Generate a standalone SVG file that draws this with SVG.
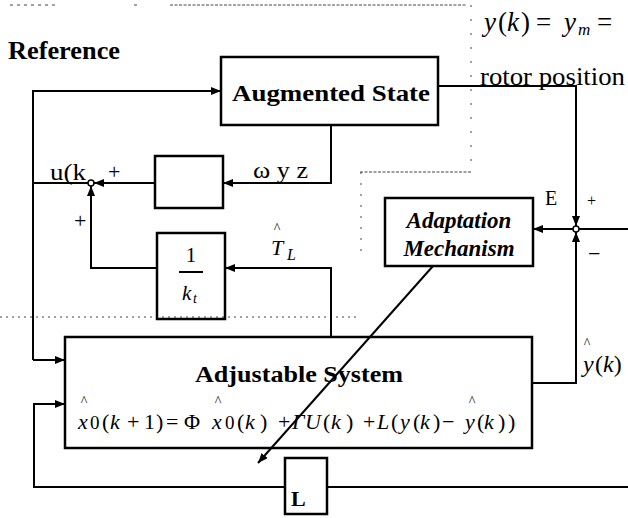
<svg xmlns="http://www.w3.org/2000/svg" width="628" height="518" viewBox="0 0 628 518">
<style>
text{font-family:"Liberation Serif","Times New Roman",serif;fill:#000}
.b{font-weight:bold}
.i{font-style:italic}
.box{fill:none;stroke:#000;stroke-width:2.5}
.ln{fill:none;stroke:#000;stroke-width:2}
.dot{fill:none;stroke:#444;stroke-width:1}
.sum{fill:#fff;stroke:#000;stroke-width:1.5}
.hat{font-size:14px}
</style>
<defs>
<marker id="ah" viewBox="0 0 10 8" refX="10" refY="4" markerWidth="10" markerHeight="8" markerUnits="userSpaceOnUse" orient="auto"><path d="M0,0 L10,4 L0,8 z" fill="#000"/></marker>
</defs>
<rect width="628" height="518" fill="#fff"/>
<g id="artifacts">
<path class="dot" d="M10,5 H55" stroke-dasharray="3 4"/>
<path class="dot" d="M134,5 H137"/>
<path class="dot" d="M170,5 H467" stroke-dasharray="3 1.5"/>
<path class="dot" d="M471,5 V172" stroke-dasharray="2 12"/>
<path class="dot" d="M360,172 H472" stroke-dasharray="3 1.5"/>
<path class="dot" d="M361,172 V256" stroke-dasharray="2 9"/>
<path class="dot" d="M0,317 H360" stroke-dasharray="2 4"/>
</g>
<g id="connectors">
<path class="ln" d="M33,360 V91 H221" marker-end="url(#ah)"/>
<path class="ln" d="M33,360 H65" marker-end="url(#ah)"/>
<path class="ln" d="M88,183 H33"/>
<path class="ln" d="M438,86 H576 V226" marker-end="url(#ah)"/>
<path class="ln" d="M532,383 H576 V232" marker-end="url(#ah)"/>
<path class="ln" d="M628,229 H579" stroke-width="3"/>
<path class="ln" d="M573,229 H533" marker-end="url(#ah)"/>
<path class="ln" d="M331,125 V183 H223" marker-end="url(#ah)"/>
<path class="ln" d="M155,183 H94" marker-end="url(#ah)"/>
<path class="ln" d="M331,337 V268 H225" marker-end="url(#ah)"/>
<path class="ln" d="M157,268 H91 V186" marker-end="url(#ah)"/>
<path class="ln" d="M433,266 L258,463" marker-end="url(#ah)"/>
<path class="ln" d="M628,487 H327"/>
<path class="ln" d="M285,487 H34 V404 H65" marker-end="url(#ah)"/>
</g>
<g id="augmented-state">
<rect class="box" x="221" y="57" width="217" height="68"/>
<text class="b" x="232" y="101" font-size="24" textLength="198" lengthAdjust="spacingAndGlyphs">Augmented State</text>
</g>
<g id="feedback-gain">
<rect class="box" x="155" y="156" width="68" height="52"/>
</g>
<g id="torque-gain">
<rect class="box" x="157" y="233" width="68" height="86"/>
<text x="191" y="262" font-size="21" text-anchor="middle">1</text>
<path d="M179,272 H203" stroke="#000" stroke-width="2"/>
<text class="i" x="182" y="300" font-size="21">k</text>
<text class="i" x="193" y="303" font-size="14">t</text>
</g>
<g id="adaptation-mechanism">
<rect class="box" x="385" y="198" width="148" height="68"/>
<text class="b i" x="459" y="228" font-size="23" text-anchor="middle">Adaptation</text>
<text class="b i" x="459" y="256" font-size="23" text-anchor="middle">Mechanism</text>
</g>
<g id="adjustable-system">
<rect class="box" x="65" y="337" width="467" height="111"/>
<text class="b" x="195" y="382" font-size="24" textLength="208" lengthAdjust="spacingAndGlyphs">Adjustable System</text>
<text y="429" font-size="22"><tspan class="i" x="78">x</tspan><tspan x="90" font-size="19">0</tspan><tspan x="102">(</tspan><tspan class="i" x="110">k</tspan><tspan x="127">+</tspan><tspan x="144">1</tspan><tspan x="156">)</tspan><tspan x="166">=</tspan><tspan x="184">Φ</tspan><tspan class="i" x="212">x</tspan><tspan x="225" font-size="19">0</tspan><tspan x="237">(</tspan><tspan class="i" x="245">k</tspan><tspan x="260">)</tspan><tspan x="278">+</tspan><tspan class="i" x="292">Γ</tspan><tspan class="i" x="305">U</tspan><tspan x="323">(</tspan><tspan class="i" x="331">k</tspan><tspan x="346">)</tspan><tspan x="363">+</tspan><tspan class="i" x="377">L</tspan><tspan x="391">(</tspan><tspan class="i" x="400">y</tspan><tspan x="413">(</tspan><tspan class="i" x="420">k</tspan><tspan x="433">)</tspan><tspan x="442">−</tspan><tspan class="i" x="465">y</tspan><tspan x="477">(</tspan><tspan class="i" x="484">k</tspan><tspan x="498">)</tspan><tspan x="508">)</tspan></text>
<text class="hat" x="84" y="406" text-anchor="middle">^</text>
<text class="hat" x="218" y="406" text-anchor="middle">^</text>
<text class="hat" x="472" y="406" text-anchor="middle">^</text>
</g>
<g id="observer-gain">
<rect class="box" x="285" y="458" width="42" height="56"/>
<text class="b" x="291" y="506" font-size="22">L</text>
</g>
<g id="sum-u">
<circle class="sum" cx="91" cy="183" r="3"/>
</g>
<g id="sum-e">
<circle class="sum" cx="576" cy="229" r="3"/>
</g>
<g id="labels">
<text class="b" x="8" y="59" font-size="26" textLength="112" lengthAdjust="spacingAndGlyphs">Reference</text>
<text y="31" font-size="27"><tspan class="i" x="484">y</tspan><tspan x="498">(</tspan><tspan class="i" x="507">k</tspan><tspan x="521">)</tspan><tspan x="536">=</tspan><tspan class="i" x="564">y</tspan><tspan x="597">=</tspan></text>
<text class="i" x="578" y="35" font-size="17">m</text>
<text x="480" y="85" font-size="25" textLength="145" lengthAdjust="spacingAndGlyphs">rotor position</text>
<text x="50" y="180" font-size="23" textLength="36" lengthAdjust="spacingAndGlyphs">u(k</text>
<text x="108" y="179" font-size="22">+</text>
<text x="74" y="228" font-size="22">+</text>
<text x="253" y="178" font-size="23" textLength="55" lengthAdjust="spacingAndGlyphs">ω y z</text>
<text class="i" x="271" y="255" font-size="22">T</text>
<text class="i" x="287" y="260" font-size="16">L</text>
<text class="hat" x="277" y="233" text-anchor="middle">^</text>
<text x="545" y="205" font-size="20">E</text>
<text x="587" y="206" font-size="16">+</text>
<text x="588" y="261" font-size="22">−</text>
<text class="i" x="583" y="372" font-size="24">y</text>
<text x="595" y="372" font-size="24">(<tspan class="i">k</tspan>)</text>
<text class="hat" x="587" y="348" text-anchor="middle">^</text>
</g>
</svg>
